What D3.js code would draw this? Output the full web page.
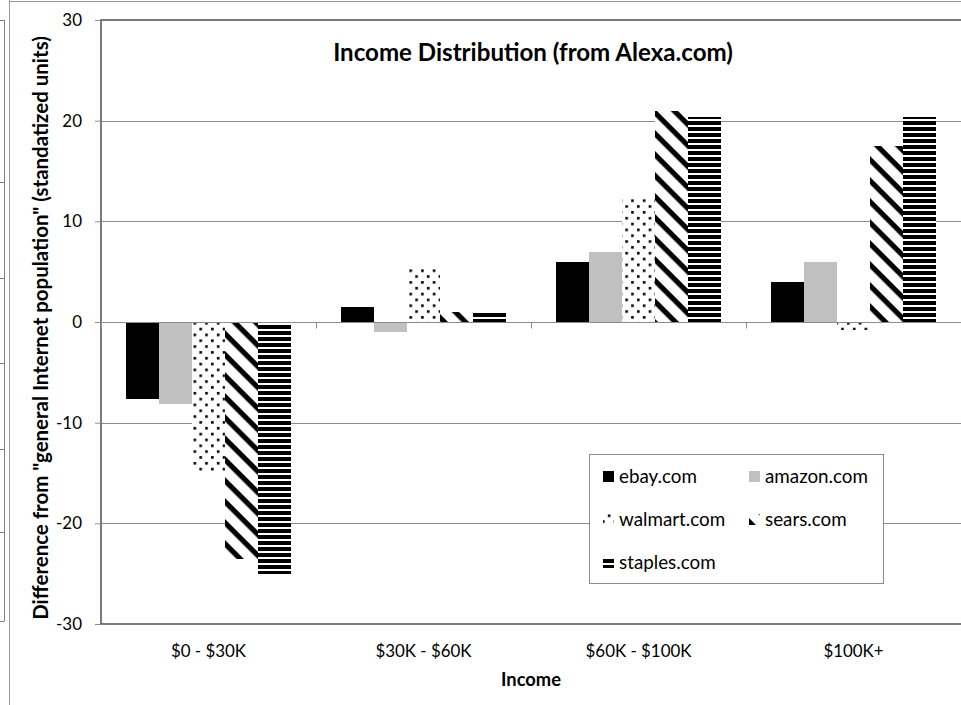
<!DOCTYPE html>
<html><head><meta charset="utf-8">
<script src="https://cdn.jsdelivr.net/npm/d3@7/dist/d3.min.js"></script>
<style>
html,body{margin:0;padding:0;background:#fff;}
svg{display:block;font-family:Lato,"Open Sans","Liberation Sans",sans-serif;}
</style></head>
<body>
<svg id="chart" width="961" height="705"></svg>
<script>
// ---- data ----
const categories = ["$0 - $30K", "$30K - $60K", "$60K - $100K", "$100K+"];
const seriesNames = ["ebay.com", "amazon.com", "walmart.com", "sears.com", "staples.com"];
const ebay    = [-7.6, 1.5, 6.0, 4.0];
const amazon  = [-8.1, -1.0, 7.0, 6.0];
const walmart = [-15.0, 5.3, 12.2, -0.8];
const sears   = [-23.5, 1.0, 21.0, 17.5];
const staples = [-25.0, 0.9, 20.4, 20.4];
const yTicks  = [-30, -20, -10, 0, 10, 20, 30];
const titleText = "Income Distribution (from Alexa.com)";
const xTitle = "Income";
const yTitle = "Difference from \"general Internet population\" (standatized units)";

const seriesValues = [ebay, amazon, walmart, sears, staples];
const fills = ["#000000", "#c0c0c0", "url(#pDots)", "url(#pDiag)", "url(#pHoriz)"];

const svg = d3.select("#chart");
const W = 961, H = 705;
const plot = {left: 101, right: 961, top: 20, bottom: 624};

// ---- patterns ----
const defs = svg.append("defs");
const pd = defs.append("pattern").attr("id", "pDots").attr("patternUnits", "userSpaceOnUse")
  .attr("width", 11.67).attr("height", 11.67);
pd.append("rect").attr("width", 11.67).attr("height", 11.67).attr("fill", "#fff");
pd.append("rect").attr("x", 1).attr("y", 1).attr("width", 2.6).attr("height", 2.6).attr("fill", "#000");
pd.append("rect").attr("x", 6.83).attr("y", 6.83).attr("width", 2.6).attr("height", 2.6).attr("fill", "#000");

const pg = defs.append("pattern").attr("id", "pDiag").attr("patternUnits", "userSpaceOnUse")
  .attr("width", 14.85).attr("height", 14.85).attr("patternTransform", "rotate(45)");
pg.append("rect").attr("width", 14.85).attr("height", 14.85).attr("fill", "#fff");
pg.append("rect").attr("y", 0).attr("width", 14.85).attr("height", 5.2).attr("fill", "#000");

const ph = defs.append("pattern").attr("id", "pHoriz").attr("patternUnits", "userSpaceOnUse")
  .attr("width", 6).attr("height", 6).attr("y", 1);
ph.append("rect").attr("width", 6).attr("height", 6).attr("fill", "#fff");
ph.append("rect").attr("width", 6).attr("height", 4).attr("fill", "#000");

// ---- helpers ----
function fitSize(text, weight, target) {
  const t = svg.append("text").attr("font-size", 100).attr("font-weight", weight).text(text);
  const w = t.node().getComputedTextLength();
  t.remove();
  return 100 * target / w;
}

// ---- outer frame artifacts ----
svg.append("line").attr("x1", 9.5).attr("x2", 9.5).attr("y1", 0).attr("y2", H)
  .attr("stroke", "#9a9a9a").attr("stroke-width", 1);
svg.append("line").attr("x1", 9.5).attr("x2", W).attr("y1", 1.5).attr("y2", 1.5)
  .attr("stroke", "#9a9a9a").attr("stroke-width", 1);
svg.append("line").attr("x1", 4.5).attr("x2", 4.5).attr("y1", 20).attr("y2", 621)
  .attr("stroke", "#808080").attr("stroke-width", 1);
[20, 182, 278, 363, 449, 532, 621].forEach(y => {
  svg.append("line").attr("x1", 0).attr("x2", 4.5).attr("y1", y + 0.5).attr("y2", y + 0.5)
    .attr("stroke", "#808080").attr("stroke-width", 1);
});

// ---- scales ----
const y = d3.scaleLinear().domain([-30, 30]).range([plot.bottom, plot.top]);
const x0 = d3.scaleBand().domain(categories).range([plot.left, plot.right]).padding(0);
const x1 = d3.scaleBand().domain(seriesNames).range([0, x0.bandwidth()])
  .paddingInner(0).paddingOuter(0.75);

// ---- gridlines ----
svg.append("g").selectAll("line").data(yTicks.filter(d => d !== 30 && d !== -30)).join("line")
  .attr("x1", plot.left).attr("x2", plot.right)
  .attr("y1", d => Math.round(y(d)) + 0.5).attr("y2", d => Math.round(y(d)) + 0.5)
  .attr("stroke", "#8c8c8c").attr("stroke-width", 1);

// ---- bars ----
const g = svg.append("g");
categories.forEach((c, ci) => {
  seriesNames.forEach((s, si) => {
    const v = seriesValues[si][ci];
    g.append("rect")
      .attr("x", x0(c) + x1(s))
      .attr("width", x1.bandwidth())
      .attr("y", y(Math.max(0, v)))
      .attr("height", Math.abs(y(v) - y(0)))
      .attr("fill", fills[si])
      .attr("shape-rendering", "crispEdges");
  });
});

// ---- plot border ----
svg.append("rect").attr("x", plot.left).attr("y", plot.top)
  .attr("width", plot.right - plot.left + 2).attr("height", plot.bottom - plot.top)
  .attr("fill", "none").attr("stroke", "#5a5a5a").attr("stroke-width", 1.6);

// ---- y axis ticks & labels ----
const yAxis = d3.axisLeft(y).tickValues(yTicks).tickSize(6).tickPadding(13).tickFormat(d => String(d));
const ya = svg.append("g").attr("transform", `translate(${plot.left},0)`).call(yAxis);
ya.select(".domain").remove();
ya.selectAll(".tick line").attr("stroke", "#8c8c8c");
const tickSize = fitSize("-30", 400, 26);
ya.selectAll(".tick text").attr("font-size", tickSize).attr("fill", "#000")
  .attr("font-family", "Lato,'Open Sans',sans-serif");

// ---- x axis at zero ----
const xa = svg.append("g").attr("transform", `translate(0,${Math.round(y(0)) + 0.5})`);
xa.append("line").attr("x1", plot.left).attr("x2", plot.right).attr("stroke", "#8c8c8c");
const bounds = categories.map(c => x0(c)).concat([plot.right]);
xa.selectAll("line.tk").data(bounds).join("line").attr("class", "tk")
  .attr("x1", d => Math.round(d) + 0.5).attr("x2", d => Math.round(d) + 0.5)
  .attr("y1", 0).attr("y2", 6).attr("stroke", "#8c8c8c");

// ---- x category labels ----
const xlSize = fitSize("$60K - $100K", 400, 106);
svg.append("g").selectAll("text").data(categories).join("text")
  .attr("x", d => x0(d) + x0.bandwidth() / 2).attr("y", 651)
  .attr("dy", "0.35em").attr("text-anchor", "middle")
  .attr("font-size", xlSize).attr("fill", "#000").text(d => d);

// ---- axis titles ----
svg.append("text").attr("x", (plot.left + plot.right) / 2).attr("y", 680).attr("dy", "0.35em")
  .attr("text-anchor", "middle").attr("font-weight", 700)
  .attr("font-size", fitSize(xTitle, 700, 60)).text(xTitle);

svg.append("text").attr("transform", `translate(41,${(36 + 620) / 2}) rotate(-90)`)
  .attr("dy", "0.35em").attr("text-anchor", "middle").attr("font-weight", 700)
  .attr("font-size", fitSize(yTitle, 700, 584)).text(yTitle);

// ---- title ----
svg.append("text").attr("x", (333 + 733) / 2).attr("y", 53).attr("dy", "0.35em")
  .attr("text-anchor", "middle").attr("font-weight", 700)
  .attr("font-size", fitSize(titleText, 700, 400)).text(titleText);

// ---- legend ----
const lg = svg.append("g");
lg.append("rect").attr("x", 589.5).attr("y", 454.5).attr("width", 294).attr("height", 129)
  .attr("fill", "#fff").attr("stroke", "#8c8c8c").attr("stroke-width", 1);
const legSize = fitSize("amazon.com", 400, 103);
const legPos = [[603, 476], [749, 476], [603, 519], [749, 519], [603, 562]];
seriesNames.forEach((s, i) => {
  const [lx, ly] = legPos[i];
  lg.append("rect").attr("x", lx).attr("y", ly - 5).attr("width", 11).attr("height", 11)
    .attr("fill", fills[i]).attr("shape-rendering", "crispEdges");
  lg.append("text").attr("x", lx + 16).attr("y", ly).attr("dy", "0.35em")
    .attr("font-size", legSize).attr("fill", "#000").text(s);
});
</script>
</body></html>
